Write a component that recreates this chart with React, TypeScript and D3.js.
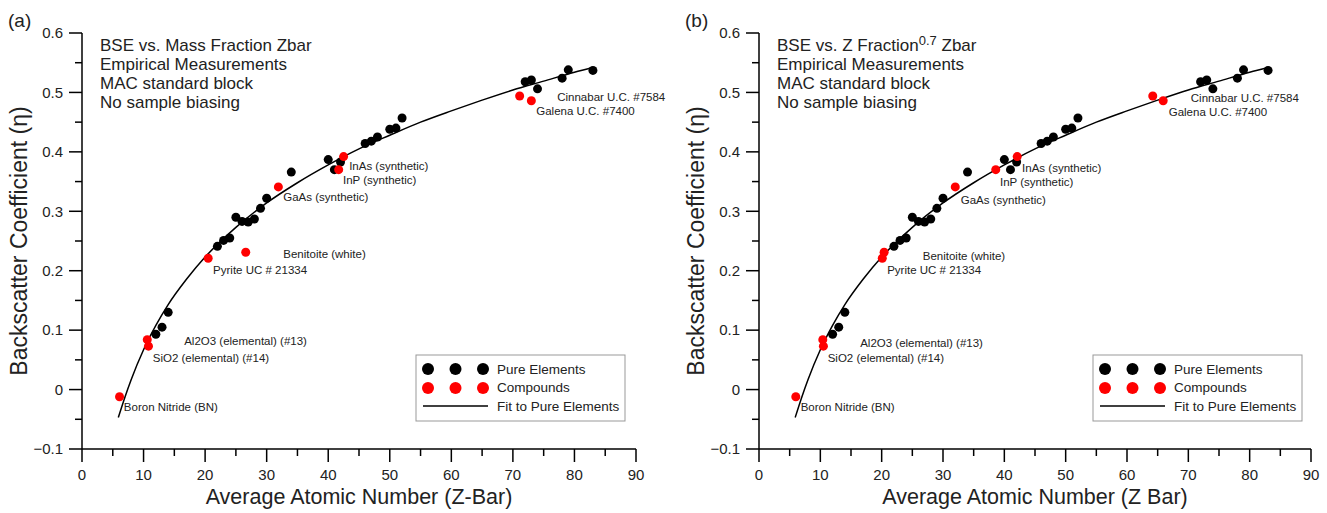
import React from "react";
import * as d3 from "d3";

// ---------- data ----------
const ELEMENT_Z = [12, 13, 14, 22, 23, 24, 25, 26, 27, 28, 29, 30, 34, 40, 41, 42, 46, 47, 48, 50, 51, 52, 72, 73, 74, 78, 79, 83];
const ELEMENT_ETA = [0.093, 0.105, 0.13, 0.241, 0.251, 0.255, 0.29, 0.283, 0.282, 0.287, 0.305, 0.322, 0.366, 0.387, 0.37, 0.383, 0.414, 0.418, 0.425, 0.438, 0.44, 0.457, 0.518, 0.521, 0.506, 0.524, 0.538, 0.537];

const COMPOUND_NAMES = ["Boron Nitride (BN)", "SiO2 (elemental) (#14)", "Al2O3 (elemental) (#13)", "Pyrite UC # 21334", "Benitoite (white)", "GaAs (synthetic)", "InP (synthetic)", "InAs (synthetic)", "Galena U.C. #7400", "Cinnabar U.C. #7584"];
const COMPOUND_ETA = [-0.012, 0.073, 0.084, 0.221, 0.231, 0.341, 0.37, 0.392, 0.486, 0.494];
const COMPOUND_Z_MASS = [6.1, 10.8, 10.6, 20.5, 26.6, 31.9, 41.7, 42.5, 73.0, 71.1];
const COMPOUND_Z_07 = [6.0, 10.5, 10.4, 20.1, 20.4, 32.0, 38.6, 42.1, 65.9, 64.2];

// label anchors (data units) per panel
const LABEL_Z_MASS = [6.8, 11.5, 16.6, 21.3, 32.7, 32.7, 42.4, 43.4, 73.8, 77.2];
const LABEL_ETA_MASS = [-0.029, 0.054, 0.081, 0.202, 0.228, 0.324, 0.352, 0.376, 0.469, 0.492];
const LABEL_Z_07 = [6.8, 11.2, 16.5, 20.9, 26.7, 32.9, 39.3, 42.9, 66.8, 70.4];
const LABEL_ETA_07 = [-0.03, 0.054, 0.079, 0.201, 0.224, 0.319, 0.349, 0.373, 0.467, 0.491];

// fit to pure elements
const FIT_Z = [5.9, 7, 8, 10, 12, 14, 17, 20, 25, 30, 35, 40, 45, 50, 55, 60, 65, 70, 75, 80, 83];
const FIT_ETA = [-0.047, -0.012, 0.017, 0.067, 0.108, 0.143, 0.186, 0.223, 0.273, 0.314, 0.348, 0.378, 0.405, 0.428, 0.45, 0.469, 0.487, 0.504, 0.519, 0.534, 0.542];

const X_DOMAIN = [0, 90];
const Y_DOMAIN = [-0.1, 0.6];
const HEADER_LINES = ["Empirical Measurements", "MAC standard block", "No sample biasing"];
const LEGEND_LABELS = ["Pure Elements", "Compounds", "Fit to Pure Elements"];

const FONT = "'Liberation Sans', Arial, sans-serif";
const TEXT = "#222";

type PanelProps = {
  x0: number;
  x1: number;
  tag: string;
  xTitle: string;
  headerFirst: React.ReactNode;
  compZ: number[];
  labZ: number[];
  labEta: number[];
};

function Panel({ x0, x1, tag, xTitle, headerFirst, compZ, labZ, labEta }: PanelProps) {
  const yTop = 33;
  const yBot = 449;
  const x = d3.scaleLinear().domain(X_DOMAIN).range([x0, x1]);
  const y = d3.scaleLinear().domain(Y_DOMAIN).range([yBot, yTop]);
  const xMajor = d3.range(0, 91, 10);
  const xMinor = d3.range(5, 90, 10);
  const yMajor = d3.range(-1, 7).map((d) => d / 10);
  const yMinor = d3.range(-1, 6).map((d) => d / 10 + 0.05);
  const line = d3
    .line<number>()
    .x((_, i) => x(FIT_Z[i]))
    .y((d) => y(d))
    .curve(d3.curveMonotoneX);
  const fitPath = line(FIT_ETA) || "";
  const lx = x0 + 334;
  const ly = 355;
  return (
    <g fontFamily={FONT}>
      <text x={x0 - 74} y={27} fontSize={19} fill={TEXT}>{tag}</text>
      {/* axes */}
      <line x1={x0} x2={x0} y1={yTop} y2={yBot} stroke="#000" strokeWidth={1.5} />
      <line x1={x0} x2={x1} y1={yBot} y2={yBot} stroke="#000" strokeWidth={1.5} />
      {yMajor.map((v) => (
        <g key={"ym" + v}>
          <line x1={x0 - 13} x2={x0} y1={y(v)} y2={y(v)} stroke="#000" strokeWidth={1.5} />
          <text x={x0 - 19} y={y(v)} dy="0.35em" textAnchor="end" fontSize={15} fill={TEXT}>
            {d3.format(".1~f")(v)}
          </text>
        </g>
      ))}
      {yMinor.map((v) => (
        <line key={"yn" + v} x1={x0 - 7} x2={x0} y1={y(v)} y2={y(v)} stroke="#000" strokeWidth={1.5} />
      ))}
      {xMajor.map((v) => (
        <g key={"xm" + v}>
          <line x1={x(v)} x2={x(v)} y1={yBot} y2={yBot + 13} stroke="#000" strokeWidth={1.5} />
          <text x={x(v)} y={yBot + 26} dy="0.35em" textAnchor="middle" fontSize={15} fill={TEXT}>
            {v}
          </text>
        </g>
      ))}
      {xMinor.map((v) => (
        <line key={"xn" + v} x1={x(v)} x2={x(v)} y1={yBot} y2={yBot + 7} stroke="#000" strokeWidth={1.5} />
      ))}
      <text x={(x0 + x1) / 2} y={504} textAnchor="middle" fontSize={21.5} fill={TEXT}>{xTitle}</text>
      <text
        transform={`translate(${x0 - 55},${(yTop + yBot) / 2}) rotate(-90)`}
        textAnchor="middle"
        fontSize={23}
        fill={TEXT}
      >
        Backscatter Coefficient (η)
      </text>
      {/* header */}
      <g fontSize={17} fill={TEXT}>
        <text x={x0 + 18} y={51}>{headerFirst}</text>
        {HEADER_LINES.map((t, i) => (
          <text key={t} x={x0 + 18} y={70 + i * 19}>{t}</text>
        ))}
      </g>
      {/* fit */}
      <path d={fitPath} fill="none" stroke="#000" strokeWidth={1.5} />
      {/* points */}
      {ELEMENT_Z.map((z, i) => (
        <circle key={"e" + i} cx={x(z)} cy={y(ELEMENT_ETA[i])} r={4.5} fill="#000" />
      ))}
      {compZ.map((z, i) => (
        <circle key={"c" + i} cx={x(z)} cy={y(COMPOUND_ETA[i])} r={4.5} fill="#f00" />
      ))}
      {COMPOUND_NAMES.map((n, i) => (
        <text key={"l" + i} x={x(labZ[i])} y={y(labEta[i])} dy="0.35em" fontSize={11.5} fill={TEXT}>
          {n}
        </text>
      ))}
      {/* legend */}
      <rect x={lx} y={ly} width={209} height={66} fill="#fff" stroke="#999" strokeWidth={1} />
      {[0, 1, 2].map((k) => (
        <circle key={"lb" + k} cx={lx + 12 + k * 27.5} cy={ly + 14} r={6} fill="#000" />
      ))}
      {[0, 1, 2].map((k) => (
        <circle key={"lr" + k} cx={lx + 12 + k * 27.5} cy={ly + 33} r={6} fill="#f00" />
      ))}
      <line x1={lx + 7} x2={lx + 72} y1={ly + 51} y2={ly + 51} stroke="#000" strokeWidth={1.5} />
      {LEGEND_LABELS.map((t, i) => (
        <text key={t} x={lx + 81} y={ly + 14 + i * 18.5} dy="0.35em" fontSize={13.5} fill={TEXT}>
          {t}
        </text>
      ))}
    </g>
  );
}

export default function App() {
  return (
    <svg
      width={1327}
      height={513}
      style={{ position: "absolute", left: 0, top: 0, background: "#fff" }}
    >
      <Panel
        x0={82}
        x1={636}
        tag="(a)"
        xTitle="Average Atomic Number (Z-Bar)"
        headerFirst="BSE vs. Mass Fraction Zbar"
        compZ={COMPOUND_Z_MASS}
        labZ={LABEL_Z_MASS}
        labEta={LABEL_ETA_MASS}
      />
      <Panel
        x0={759}
        x1={1311}
        tag="(b)"
        xTitle="Average Atomic Number (Z Bar)"
        headerFirst={
          <>
            BSE vs. Z Fraction
            <tspan dy={-6} fontSize={13}>0.7</tspan>
            <tspan dy={6}> Zbar</tspan>
          </>
        }
        compZ={COMPOUND_Z_07}
        labZ={LABEL_Z_07}
        labEta={LABEL_ETA_07}
      />
    </svg>
  );
}
